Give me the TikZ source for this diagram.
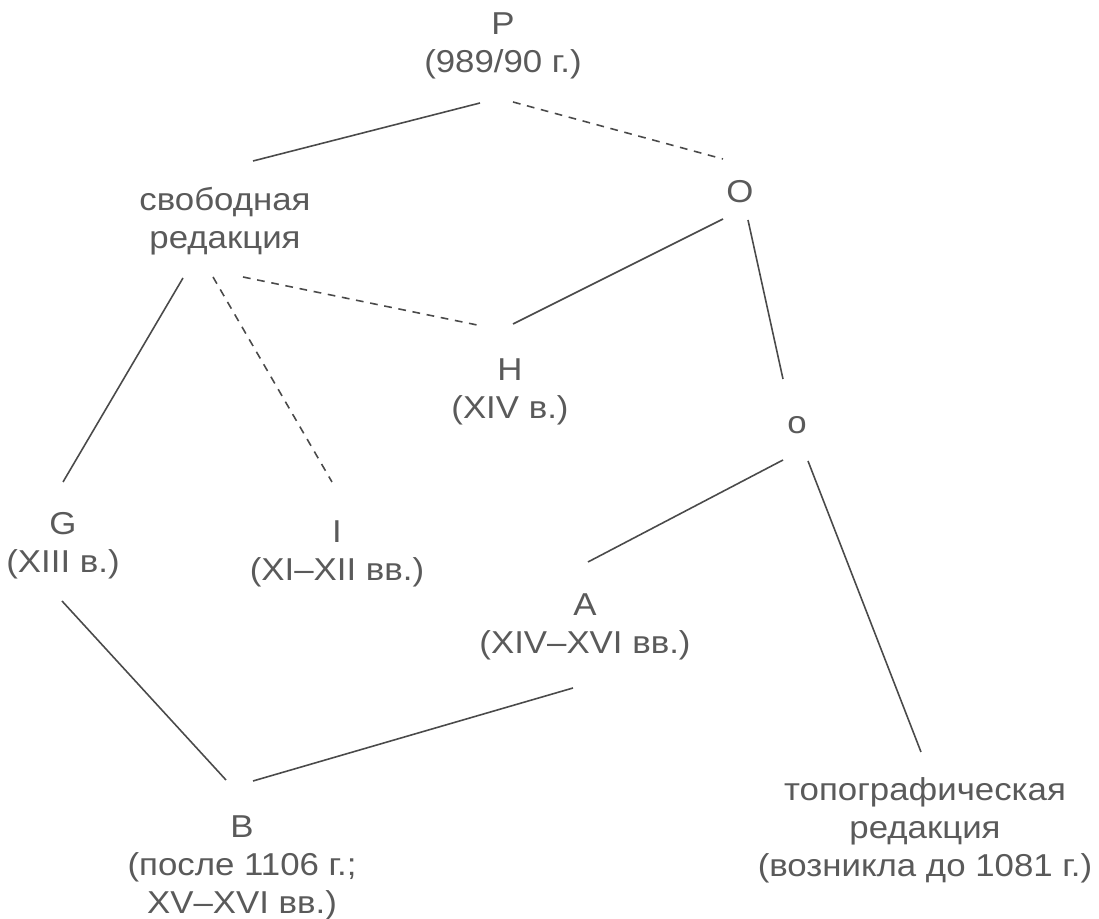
\documentclass[tikz,border=0pt]{standalone}
\usepackage{fontspec}
\setmainfont{Liberation Sans}[FakeStretch=1.1]
\definecolor{txtgray}{HTML}{5A5A5A}
\definecolor{linegray}{HTML}{4A4A4A}
\begin{document}
\begin{tikzpicture}[
       x=0.01cm,y=-0.01cm,
       line width=0.45pt,
       witness/.style={
         align=center,
         text=txtgray,
         inner sep=0pt,
         font=\fontsize{9}{10.8}\selectfont
       },
       link/.style={draw=linegray},
       lost/.style={draw=linegray,dash pattern=on 2.2pt off 1.9pt}
     ]
       \useasboundingbox (0,0) rectangle (1099,919);

       \node (P) at (503,46) [witness]{P\\(989/90 г.)};
       \node (svob) at (225,221) [witness]{свободная\\редакция};
       \node (O) at (740,192) [witness]{O};
       \node (H) at (510,392) [witness]{H\\(XIV в.)};
       \node (o) at (797,425) [witness]{o};
       \node (G) at (63,546) [witness]{G\\(XIII в.)};
       \node (I) at (337,554) [witness]{I\\(XI–XII вв.)};
       \node (A) at (585,627) [witness]{A\\(XIV–XVI вв.)};
       \node (B) at (242,868) [witness]{B\\(после 1106 г.;\\XV–XVI вв.)};
       \node (topo) at (925,830) [witness]{топографическая\\редакция\\(возникла до 1081 г.)};

       \draw[link] ([shift={(-23,57)}]P.center) -- ([shift={(28,-60)}]svob.center);
       \draw[lost] ([shift={(10,56)}]P.center) -- ([shift={(-17,-33)}]O.center);

       \draw[link] ([shift={(-42,57)}]svob.center) -- ([shift={(0,-64)}]G.center);
       \draw[lost] ([shift={(-12,56)}]svob.center) -- ([shift={(-5,-72)}]I.center);
       \draw[lost] ([shift={(18,56)}]svob.center) -- ([shift={(-28,-66)}]H.center);

       \draw[link] ([shift={(-17,27)}]O.center) -- ([shift={(3,-68)}]H.center);
       \draw[link] ([shift={(8,28)}]O.center) -- ([shift={(-14,-46)}]o.center);

       \draw[link] ([shift={(-14,35)}]o.center) -- ([shift={(3,-65)}]A.center);
       \draw[link] ([shift={(11,36)}]o.center) -- ([shift={(-4,-78)}]topo.center);

       \draw[link] ([shift={(-1,55)}]G.center) -- ([shift={(-16,-88)}]B.center);
       \draw[link] ([shift={(-12,61)}]A.center) -- ([shift={(11,-87)}]B.center);

\end{tikzpicture}
\end{document}
